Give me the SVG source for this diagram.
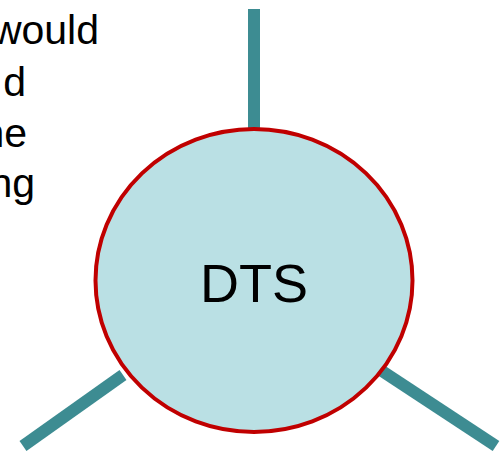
<svg xmlns="http://www.w3.org/2000/svg" width="500" height="451" viewBox="0 0 500 451">
<style>
.t{font-family:"Liberation Sans",Arial,sans-serif;fill:#000}
.c{stroke:#3D8C92;stroke-width:12;stroke-linecap:butt;fill:none}
</style>
<rect width="500" height="451" fill="#fff"/>
<g id="text-fragment">
<text class="t" font-size="41" text-anchor="end" x="99" y="44">would</text>
<text class="t" font-size="41" text-anchor="end" x="26" y="96">d</text>
<text class="t" font-size="41" text-anchor="end" x="27" y="147">he</text>
<text class="t" font-size="41" text-anchor="end" x="35" y="197">ng</text>
</g>
<g id="connectors">
<line class="c" x1="254" y1="9" x2="254" y2="130"/>
<line class="c" x1="123" y1="375" x2="23" y2="446"/>
<line class="c" x1="382" y1="371" x2="496" y2="446"/>
</g>
<g id="dts">
<ellipse cx="254" cy="280.5" rx="158.5" ry="151.5" fill="#BAE0E4" stroke="#C00000" stroke-width="4"/>
<text class="t" font-size="54" text-anchor="middle" x="254" y="301.5">DTS</text>
</g>
</svg>
